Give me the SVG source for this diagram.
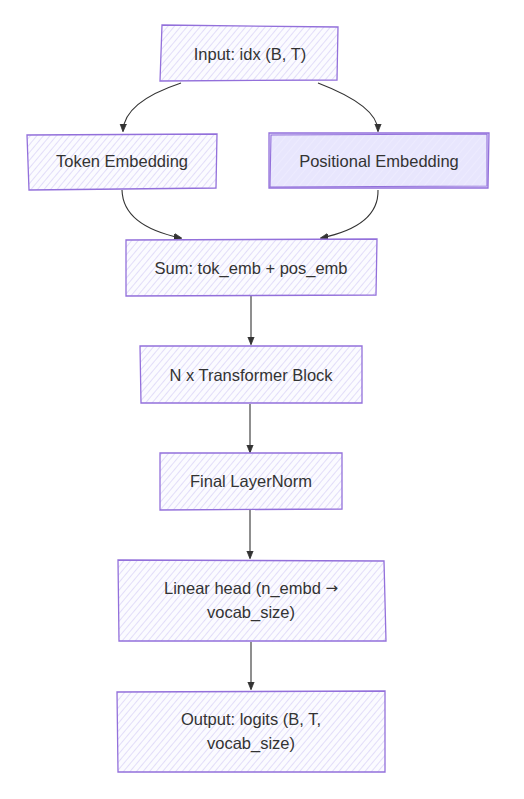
<svg xmlns="http://www.w3.org/2000/svg" width="524" height="799" viewBox="0 0 524 799">
<style>
.box{fill:url(#hatch);stroke:#9370DB;stroke-width:1.3}
.solid{fill:#ECECFF;stroke:#9370DB;stroke-width:1.3}
.edge{fill:none;stroke:#333;stroke-width:1.1}
text{font-family:"Liberation Sans",Arial,sans-serif;font-size:16.5px;fill:#333;text-anchor:middle;dominant-baseline:central}
.sym{font-family:"DejaVu Sans",sans-serif;font-size:15px;fill:#333}
</style>
<defs>
<pattern id="hatch" patternUnits="userSpaceOnUse" width="5" height="5" patternTransform="rotate(40)">
<rect width="5" height="5" fill="#fbfbff"/>
<line x1="0" y1="0" x2="0" y2="5" stroke="#d2c9f6" stroke-width="1.2"/>
</pattern>
<pattern id="hatch2" patternUnits="userSpaceOnUse" width="6" height="6" patternTransform="rotate(40)">
<rect width="6" height="6" fill="#E8E6FD"/>
<line x1="0" y1="0" x2="0" y2="6" stroke="#f2f0ff" stroke-width="1"/>
</pattern>
<marker id="arrow" viewBox="0 0 10 10" refX="9" refY="5" markerWidth="8" markerHeight="8" orient="auto-start-reverse" markerUnits="userSpaceOnUse">
<path d="M0,1 L10,5 L0,9 z" fill="#333" stroke="#333" stroke-width="1"/>
</marker>
</defs>
<g id="edges">
<path class="edge" d="M181,83 Q124,102 123,131" marker-end="url(#arrow)"/>
<path class="edge" d="M318,83 Q378,106 378,131" marker-end="url(#arrow)"/>
<path class="edge" d="M122,190 Q123,226 181,238" marker-end="url(#arrow)"/>
<path class="edge" d="M378,190 Q379,226 321,238" marker-end="url(#arrow)"/>
<path class="edge" d="M251,296 L251,344" marker-end="url(#arrow)"/>
<path class="edge" d="M250,404 L250,452" marker-end="url(#arrow)"/>
<path class="edge" d="M250,510 L250,558" marker-end="url(#arrow)"/>
<path class="edge" d="M251,642 L251,689" marker-end="url(#arrow)"/>
</g>
<g id="input">
<path class="box" d="M162,25 L338,27 L337,80 L160,81 Z"/>
<text x="250" y="54">Input: idx (B, T)</text>
</g>
<g id="token">
<path class="box" d="M27,135 L217,134 L216,188 L29,190 Z"/>
<text x="122" y="161">Token Embedding</text>
</g>
<g id="positional">
<path class="solid" style="fill:url(#hatch2)" d="M269,133 L489,133 L488,188 L269,188 Z"/>
<path fill="none" stroke="#9370DB" stroke-width="1.1" d="M271,135 L487,134 L487,186 L270,187 Z"/>
<text x="379" y="161">Positional Embedding</text>
</g>
<g id="sum">
<path class="box" d="M126,240 L377,239 L376,295 L126,296 Z"/>
<text x="251" y="268">Sum: tok_emb + pos_emb</text>
</g>
<g id="transformer">
<path class="box" d="M140,346 L362,346 L362,403 L141,403 Z"/>
<text x="251" y="375">N x Transformer Block</text>
</g>
<g id="layernorm">
<path class="box" d="M160,453 L342,453 L342,509 L160,510 Z"/>
<text x="251" y="481">Final LayerNorm</text>
</g>
<g id="linear">
<path class="box" d="M118,560 L384,561 L386,641 L119,641 Z"/>
<text x="251" y="588">Linear head (n_embd <tspan class="sym">→</tspan></text>
<text x="251" y="612">vocab_size)</text>
</g>
<g id="output">
<path class="box" d="M117,692 L385,691 L385,772 L118,772 Z"/>
<text x="251" y="719">Output: logits (B, T,</text>
<text x="251" y="743">vocab_size)</text>
</g>
</svg>
